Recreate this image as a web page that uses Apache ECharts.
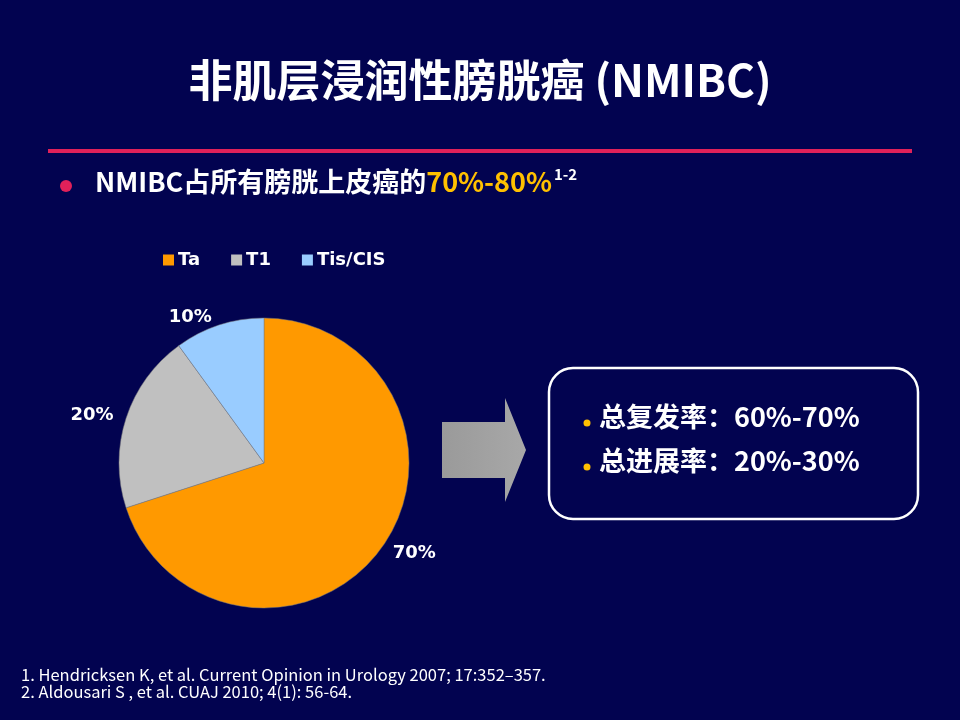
<!DOCTYPE html>
<html>
<head>
<meta charset="utf-8">
<title>NMIBC</title>
<script src="https://cdn.jsdelivr.net/npm/echarts@6/dist/echarts.min.js"></script>
<style>
  html, body { margin: 0; padding: 0; background: #020350; }
  #main { width: 960px; height: 720px; }
</style>
</head>
<body>
<div id="main"></div>
<script>
// 分期构成数据
var stageNames = ["Ta", "T1", "Tis/CIS"];
var stageValues = [70, 20, 10];
var stageColors = ["#FF9900", "#C0C0C0", "#99CCFF"];

// 右侧框内文字
var boxLines = ["总复发率：60%-70%", "总进展率：20%-30%"];
var refLines = [
  "1. Hendricksen K, et al. Current Opinion in Urology 2007; 17:352\u2013357.",
  "2. Aldousari S , et al. CUAJ 2010; 4(1): 56-64."
];

var cjk = '"Noto Sans CJK SC", "Open Sans", sans-serif';
var chart = echarts.init(document.getElementById("main"));

var pieData = stageNames.map(function (n, i) {
  return { name: n, value: stageValues[i], itemStyle: { color: stageColors[i] } };
});

var option = {
  backgroundColor: "#020350",
  animation: false,
  legend: {
    data: stageNames,
    left: 158,
    top: 246,
    icon: "rect",
    itemWidth: 11,
    itemHeight: 11,
    itemGap: 31,
    itemStyle: { borderWidth: 0 },
    textStyle: { color: "#fff", fontSize: 18, fontWeight: "bold", fontFamily: "DejaVu Sans", padding: [0, 0, 0, -1] }
  },
  series: [{
    type: "pie",
    center: [264, 463],
    radius: 145,
    startAngle: 90,
    clockwise: true,
    data: pieData,
    itemStyle: { borderColor: "#7a7a7a", borderWidth: 0.5 },
    label: {
      show: true,
      position: "outside",
      formatter: "{c}%",
      color: "#fff",
      fontSize: 18,
      fontWeight: "bold",
      fontFamily: "DejaVu Sans"
    },
    labelLine: { show: false, length: 8, length2: 0 },
    emphasis: { disabled: true }
  }],
  graphic: [
    {
      type: "text", left: "center", top: 58,
      style: { text: "非肌层浸润性膀胱癌 (NMIBC)", fill: "#fff", font: "bold 44px " + cjk }
    },
    {
      type: "rect", shape: { x: 48, y: 149, width: 864, height: 4 },
      style: { fill: "#E0215A" }
    },
    {
      type: "circle", shape: { cx: 66, cy: 186, r: 6 },
      style: { fill: "#E0215A" }
    },
    {
      type: "text", x: 95, y: 167,
      style: {
        text: "{w|NMIBC占所有膀胱上皮癌的}{y|70%-80%}{s|1-2}",
        rich: {
          w: { fill: "#fff", font: "bold 27px " + cjk },
          y: { fill: "#FFC000", font: "bold 27px " + cjk },
          s: { fill: "#fff", font: "bold 15px " + cjk, verticalAlign: "top", padding: [0, 0, 14, 2] }
        }
      }
    },
    {
      type: "polygon",
      shape: { points: [[442, 422], [505, 422], [505, 398], [526, 450], [505, 502], [505, 478], [442, 478]] },
      style: {
        fill: new echarts.graphic.LinearGradient(0, 0, 1, 0, [
          { offset: 0, color: "#9a9a9a" }, { offset: 1, color: "#a8a8a8" }
        ])
      }
    },
    {
      type: "rect", shape: { x: 549, y: 368, width: 369, height: 151, r: 24 },
      style: { fill: "none", stroke: "#fff", lineWidth: 2.5 }
    },
    {
      type: "circle", shape: { cx: 587, cy: 423, r: 3.5 }, style: { fill: "#FFC000" }
    },
    {
      type: "circle", shape: { cx: 587, cy: 467, r: 3.5 }, style: { fill: "#FFC000" }
    },
    {
      type: "text", x: 599, y: 403,
      style: { text: boxLines[0], fill: "#fff", font: "bold 27px " + cjk }
    },
    {
      type: "text", x: 599, y: 447,
      style: { text: boxLines[1], fill: "#fff", font: "bold 27px " + cjk }
    },
    {
      type: "text", x: 21, y: 666,
      style: { text: refLines.join("\n"), fill: "#fff", font: "16.5px " + cjk, lineHeight: 17 }
    }
  ]
};

chart.setOption(option);
</script>
</body>
</html>
